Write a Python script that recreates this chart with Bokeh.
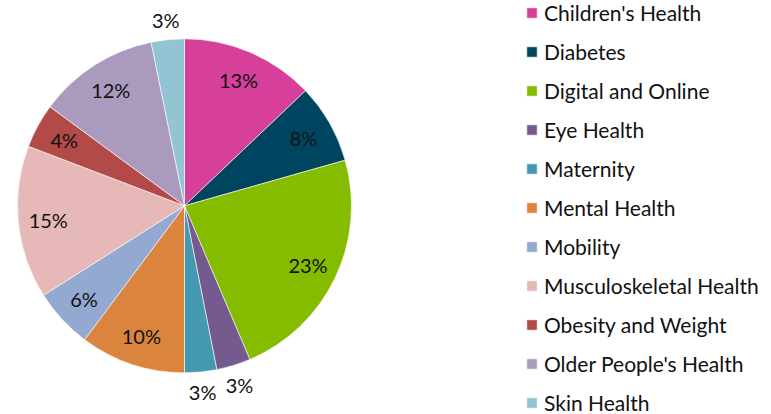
import math
from bokeh.plotting import figure
from bokeh.models import ColumnDataSource, Legend, LegendItem, Range1d
from bokeh.core.properties import value
from bokeh.embed import file_html
from bokeh.resources import INLINE

categories = ["Children's Health", "Diabetes", "Digital and Online", "Eye Health",
              "Maternity", "Mental Health", "Mobility", "Musculoskeletal Health",
              "Obesity and Weight", "Older People's Health", "Skin Health"]
shares = [12.9, 7.7, 23.0, 3.3, 3.1, 10.2, 5.8, 14.8, 4.3, 11.7, 3.2]
colors = ["#D6409A", "#004560", "#86BC00", "#745A8E", "#4499B0", "#DB843D",
          "#93A9D1", "#E6B8B7", "#B24A47", "#A99ABE", "#93C4D4"]

W, H = 771, 414
CX, CY, R = 184, 414 - 205.3, 167
FONT = "Lato"

total = sum(shares)
starts, ends, lx, ly, labels = [], [], [], [], []
cum = 0.0
for v in shares:
    a0 = math.pi / 2 - 2 * math.pi * cum / total
    cum += v
    a1 = math.pi / 2 - 2 * math.pi * cum / total
    starts.append(a0)
    ends.append(a1)
    mid = (a0 + a1) / 2
    r = R * 0.82 if v >= 4 else R + 20
    lx.append(CX + r * math.cos(mid))
    ly.append(CY + r * math.sin(mid))
    labels.append(f"{round(v / total * 100)}%")

src = ColumnDataSource(dict(cat=categories, start=starts, end=ends, color=colors))
lsrc = ColumnDataSource(dict(x=lx, y=ly, t=labels))

p = figure(width=W, height=H, output_backend="svg", toolbar_location=None,
           x_range=Range1d(0, W), y_range=Range1d(0, H), min_border=0)
p.axis.visible = False
p.grid.visible = False
p.outline_line_color = None

wr = p.wedge(x=CX, y=CY, radius=R, start_angle="start", end_angle="end",
             direction="clock", fill_color="color", line_color="white",
             line_width=0.6, source=src)
p.text(x="x", y="y", text="t", source=lsrc, text_align="center",
       text_baseline="middle", text_font=value(FONT), text_font_size="20px",
       text_color="#111111")

items = [LegendItem(label=c, renderers=[wr], index=i) for i, c in enumerate(categories)]
legend = Legend(items=items, location=(525, -1), orientation="vertical",
                glyph_width=13, glyph_height=13, label_standoff=6,
                label_text_font=FONT, label_text_font_size="21px",
                label_text_color="#111111", label_height=20, spacing=14,
                padding=0, margin=0, border_line_color=None,
                background_fill_alpha=0)
p.add_layout(legend)

open("out.html", "w").write(file_html(p, INLINE))
